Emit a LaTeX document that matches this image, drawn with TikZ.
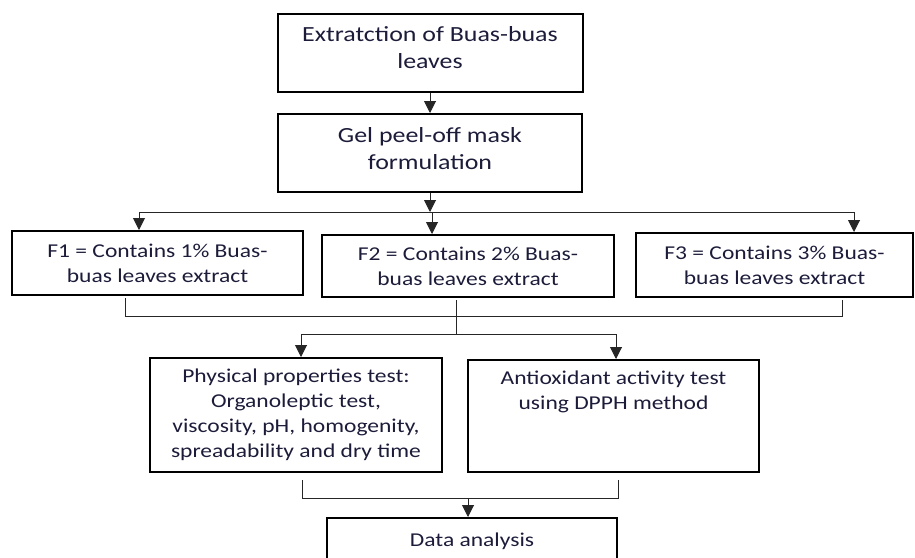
\documentclass[tikz,border=0pt]{standalone}
\usepackage{fontspec}
\setmainfont{Carlito}[FakeStretch=1.2]
\usepackage{tikz}
\usetikzlibrary{arrows.meta, positioning, calc}
\definecolor{inknavy}{HTML}{1C1C3A}

\begin{document}
\begin{tikzpicture}[x=1pt, y=-1pt,
    stepbox/.style={draw=black, line width=2pt, inner sep=0pt, align=center, text=inknavy, font=\fontsize{19.6}{25}\selectfont},
    steptext/.style={inner sep=0pt, align=center, text=inknavy, font=\fontsize{19.6}{25}\selectfont},
    toptext/.style={steptext, font=\fontsize{21.6}{27}\selectfont},
    link/.style={draw=black!85, line width=1pt},
    arr/.style={link, -{Triangle[length=12pt, width=12pt]}}]
    \useasboundingbox (0,0) rectangle (915,557);
    \clip (0,0) rectangle (915,557);
    % Extraction and formulation
    \node[stepbox, minimum width=305pt, minimum height=78pt] (extract) at (430,53) {};
    \node[toptext, yshift=5pt] (extracttext) at (extract.center) {Extratction of Buas-buas\\leaves};
    \node[stepbox, minimum width=304pt, minimum height=78pt] (gel) at (430,153) {};
    \node[toptext, yshift=4pt] (geltext) at (gel.center) {Gel peel-off mask\\formulation};
    \draw[arr] (extract) -- (gel);
    % Three formulas
    \node[stepbox, minimum width=291pt, minimum height=64pt] (f1) at (157.5,263) {F1 = Contains 1\% Buas-\\buas leaves extract};
    \node[stepbox, minimum width=292pt, minimum height=62pt] (f2) at (468,266) {F2 = Contains 2\% Buas-\\buas leaves extract};
    \node[stepbox, minimum width=277pt, minimum height=64pt] (f3) at (774.5,265) {F3 = Contains 3\% Buas-\\buas leaves extract};
    \coordinate (forkL) at (139,212);
    \coordinate (forkM) at (432,212);
    \coordinate (forkR) at (854,212);
    \draw[arr] (gel) -- (gel.south |- forkL);
    \draw[link] (forkL) -- (forkR);
    \draw[arr] (forkL) -- (forkL |- f1.north);
    \draw[arr] (forkM) -- (forkM |- f2.north);
    \draw[arr] (forkR) -- (forkR |- f3.north);
    % Tests
    \node[stepbox, minimum width=292pt, minimum height=114pt] (phys) at (296,415) {Physical properties test:\\Organoleptic test,\\viscosity, pH, homogenity,\\spreadability and dry time};
    \node[stepbox, minimum width=291pt, minimum height=112pt] (antiox) at (613.5,416) {};
    \node[steptext, below=12pt of antiox.north] (antioxtext) {Antioxidant activity test\\using DPPH method};
    \coordinate (joinL) at (125,316);
    \coordinate (joinR) at (842,316);
    \coordinate (joinM) at (456,334);
    \coordinate (splitL) at (301,334);
    \coordinate (splitR) at (616,334);
    \draw[link] ([yshift=-2pt]joinL |- f1.south) -- (joinL) -- (joinR) -- ([yshift=-2pt]joinR |- f3.south);
    \draw[link] ([yshift=-2pt]joinM |- f2.south) -- (joinM);
    \draw[link] (splitL) -- (splitR);
    \draw[arr] (splitL) -- (splitL |- phys.north);
    \draw[arr] (splitR) -- (splitR |- antiox.north);
    % Data analysis
    \node[stepbox, minimum width=290pt, minimum height=56pt] (data) at (472,546) {\raisebox{12pt}{Data analysis}};
    \coordinate (mergeL) at (302,498);
    \coordinate (mergeR) at (618,498);
    \coordinate (mergeM) at (468,498);
    \draw[link] ([yshift=-7pt]mergeL |- phys.south) -- (mergeL) -- (mergeR) -- ([yshift=-7pt]mergeR |- antiox.south);
    \draw[arr] (mergeM) -- (mergeM |- data.north);
\end{tikzpicture}
\end{document}
